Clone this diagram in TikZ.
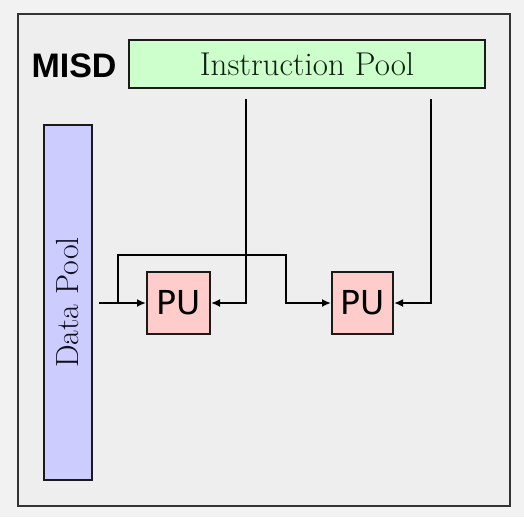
\documentclass[tikz,border=0pt]{standalone}
\usepackage{fontspec}
\usetikzlibrary{arrows.meta}
\newfontfamily\misdfont{Liberation Sans}
\newfontfamily\pufont{DejaVu Sans}
\definecolor{bgout}{HTML}{F2F2F2}
\definecolor{bgin}{HTML}{EEEEEE}
\definecolor{framec}{HTML}{333333}
\definecolor{ipfill}{HTML}{CCFFCC}
\definecolor{dpfill}{HTML}{CCCCFF}
\definecolor{pufill}{HTML}{FFCCCC}
\definecolor{edgec}{HTML}{1A1A1A}
\definecolor{iptext}{HTML}{102010}
\definecolor{dptext}{HTML}{101020}
\tikzset{
  pool/.style={draw=edgec, line width=2.6pt, inner sep=0pt},
  pubox/.style={draw=edgec, line width=2pt, fill=pufill, minimum height=62pt, inner sep=0pt,
    font=\pufont\fontsize{33}{40}\selectfont},
  conn/.style={draw=black, line width=2.2pt, -{Latex[length=9pt,width=8pt]}}
}
\begin{document}
\begin{tikzpicture}[x=1pt,y=-1pt]
  \useasboundingbox (0,0) rectangle (524,517);
  \fill[bgout] (0,0) rectangle (524,517);
  \draw[framec, line width=2.6pt, fill=bgin] (18,14) rectangle (510,506);

  \node (misd) at (74,66) {\misdfont\bfseries\fontsize{34}{40}\selectfont MISD};
  \node[pool, fill=ipfill, text=iptext, minimum width=356pt, minimum height=48pt,
        font=\fontsize{33}{40}\selectfont] (ip) at (307,64) {Instruction Pool};
  \node[pool, fill=dpfill, text=dptext, rotate=90, minimum width=355pt, minimum height=48pt,
        font=\fontsize{32}{38}\selectfont] (dp) at (68,302.5) {Data Pool};

  \node[pubox, minimum width=63pt] (pu1) at (178.5,303) {PU};
  \node[pubox, minimum width=61pt] (pu2) at (362.5,303) {PU};

  \coordinate (i1) at (246,99);
  \coordinate (i2) at (431,99);
  \coordinate (d0) at (99,303);
  \coordinate (b0) at (118,303);
  \coordinate (b1) at (118,255);
  \coordinate (b2) at (286,255);

  \draw[conn] (d0) -- (pu1.west);
  \draw[conn] (b0) -- (b1) -- (b2) |- (pu2.west);
  \draw[conn] (i1) |- (pu1.east);
  \draw[conn] (i2) |- (pu2.east);
\end{tikzpicture}
\end{document}
